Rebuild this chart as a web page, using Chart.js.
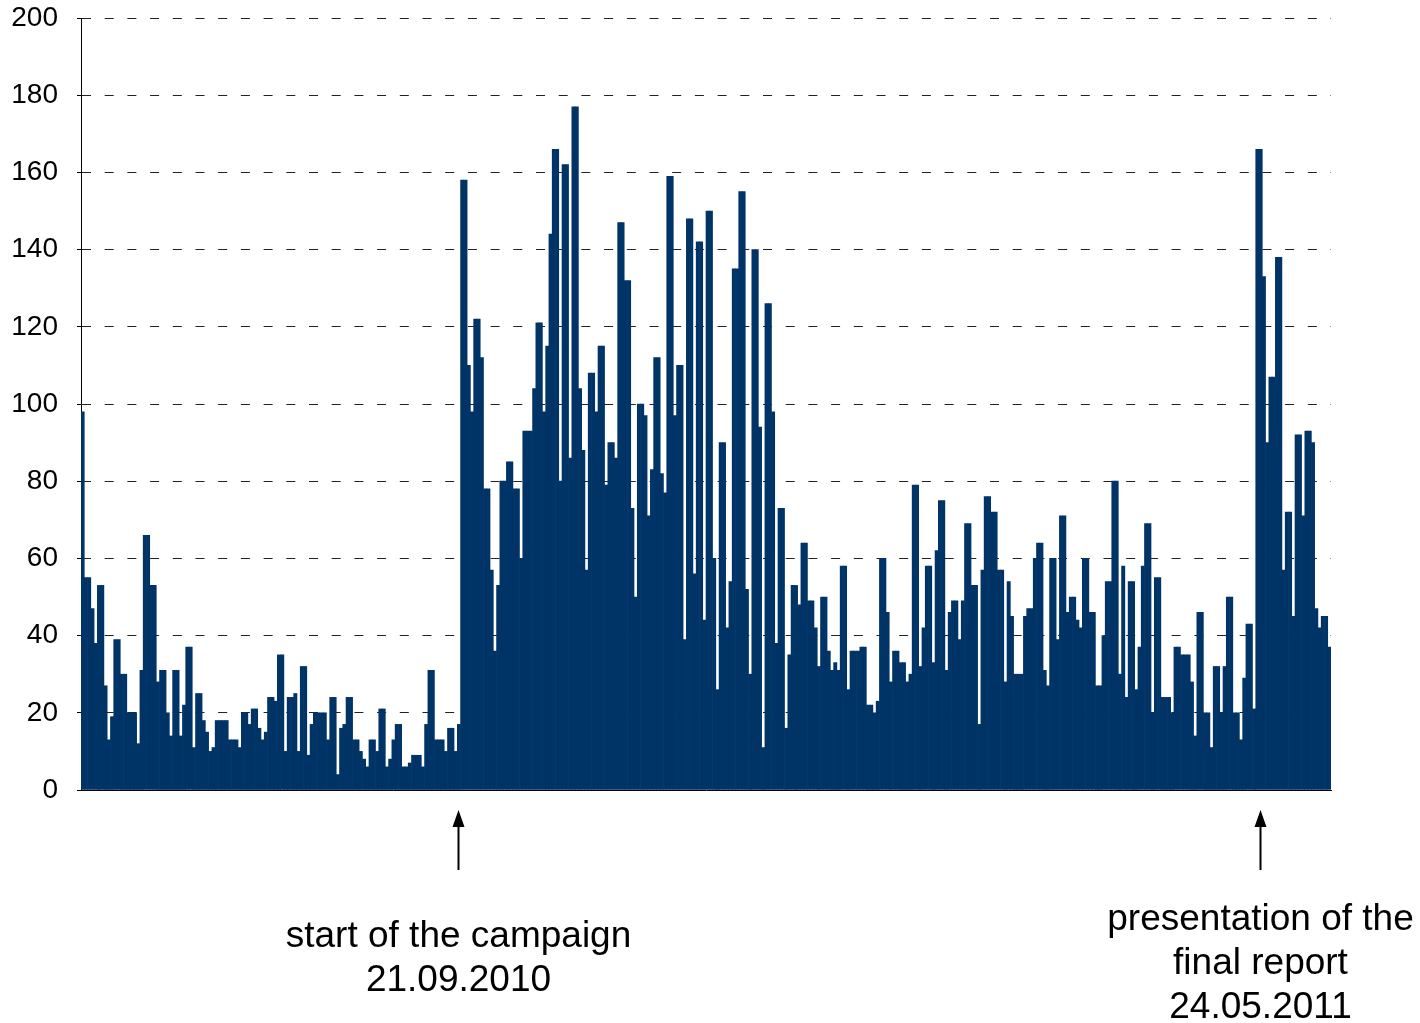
<!DOCTYPE html>
<html>
<head>
<meta charset="utf-8">
<title>Daily visits</title>
<script src="https://cdn.jsdelivr.net/npm/chart.js@4.4.0/dist/chart.umd.min.js"></script>
<style>
  html, body { margin: 0; padding: 0; background: #fff; }
  #wrap { position: relative; width: 1420px; height: 1023px; overflow: hidden; }
  #visits-chart { position: absolute; left: 0; top: 0; }
  .note {
    position: absolute;
    transform: translateX(-50%);
    text-align: center;
    white-space: nowrap;
    font-family: 'Liberation Sans', Arial, sans-serif;
    font-size: 37px;
    line-height: 44px;
    color: #000;
  }
  #note-start { top: 913px; left: 458px; }
  #note-report { top: 896px; left: 1259px; }
</style>
</head>
<body>
<div id="wrap">
  <canvas id="visits-chart" width="1420" height="1023"></canvas>
  <div class="note" id="note-start">start of the campaign<br>21.09.2010</div>
  <div class="note" id="note-report">presentation of the<br>final report<br>24.05.2011</div>
</div>
<script>
// daily values, one bar per day
const firstDay = '29.05.2010';

// 29.05.2010 - 20.09.2010
const visitsBeforeCampaign = [
  98, 55, 55, 47, 38, 53, 53, 27, 13, 19, 39, 39, 30, 30, 20, 20, 20, 12, 31, 66, 66, 53, 53, 28, 31, 31, 20, 14, 31, 31, 14, 22,
  37, 37, 11, 25, 25, 18, 15, 10, 11, 18, 18, 18, 18, 13, 13, 13, 11, 20, 20, 17, 21, 21, 16, 13, 15, 24, 24, 23, 35, 35, 10,
  24, 24, 25, 10, 32, 32, 9, 17, 20, 20, 20, 20, 13, 24, 24, 4, 16, 17, 24, 24, 13, 13, 10, 8, 6, 13, 13, 10, 21, 21, 6, 8,
  13, 17, 17, 6, 6, 7, 9, 9, 9, 6, 17, 31, 31, 13, 13, 13, 10, 16, 16, 10
];

// 21.09.2010 - 22.05.2011
const visitsCampaign = [
  17, 158, 158, 110, 98, 122, 122, 112, 78, 78, 57, 36,
  53, 80, 80, 85, 85, 78, 78, 60, 93, 93, 93, 104, 121, 121, 98, 115, 144, 166, 166, 80, 162, 162, 86, 177, 177, 104, 88, 57, 108, 108, 98,
  115, 115, 79, 90, 90, 86, 147, 147, 132, 132, 73, 50, 100, 100, 97, 71, 83, 112, 112, 82, 77, 159, 159, 97, 110, 110, 39, 148, 148, 56, 142, 142, 44,
  150, 150, 60, 26, 90, 90, 42, 54, 135, 135, 155, 155, 52, 30, 140, 140, 94, 11, 126, 126, 98, 38, 73, 73, 16, 35, 53, 53, 48, 64, 64,
  49, 49, 42, 32, 50, 50, 36, 31, 33, 31, 58, 58, 26, 36, 36, 36, 37, 37, 22, 22, 20, 23, 60, 60, 46, 28, 36, 36, 33, 33, 28, 30,
  79, 79, 32, 42, 58, 58, 33, 62, 75, 75, 31, 46, 49, 49, 39, 49, 69, 69, 53, 53, 17, 57, 76, 76, 72, 72, 57, 57, 28, 54, 45, 30,
  30, 30, 45, 47, 47, 60, 64, 64, 31, 27, 60, 60, 39, 71, 71, 46, 50, 50, 44, 42, 60, 60, 46, 46, 27, 27, 40, 54, 54, 80, 80, 30, 58,
  24, 54, 54, 26, 37, 58, 69, 69, 20, 55, 55, 24, 24, 24, 20, 37, 37, 35, 35, 35, 28, 14, 46, 46, 20, 20, 11, 32, 32, 20, 32, 50, 50, 20, 20, 13, 29, 43, 43, 21
];

// 23.05.2011 - 14.06.2011
const visitsReport = [
  166, 166, 133, 90, 107, 107, 138, 138, 57, 72, 72, 45, 92, 92, 71, 93, 93, 90, 47, 42, 45, 45, 37
];

const yTicks = [0, 20, 40, 60, 80, 100, 120, 140, 160, 180, 200];

// the two marked days, arrow + text below the axis
const events = [
  { date: '21.09.2010', note: 'note-start' },
  { date: '24.05.2011', note: 'note-report' }
];

const visits = visitsBeforeCampaign.concat(visitsCampaign, visitsReport);

// one label per day, dd.mm.yyyy
function pad(n) { return (n < 10 ? '0' : '') + n; }
const [d0, m0, y0] = firstDay.split('.').map(Number);
const dayLabels = visits.map((v, i) => {
  const d = new Date(Date.UTC(y0, m0 - 1, d0) + i * 86400000);
  return pad(d.getUTCDate()) + '.' + pad(d.getUTCMonth() + 1) + '.' + d.getUTCFullYear();
});

const eventArrows = {
  id: 'eventArrows',
  afterDraw(chart) {
    const ctx = chart.ctx;
    const xScale = chart.scales.x;
    const base = chart.chartArea.bottom;
    events.forEach(ev => {
      const idx = dayLabels.indexOf(ev.date);
      if (idx < 0) return;
      const px = Math.round(xScale.getPixelForValue(idx) - 1) + 0.5;
      ctx.save();
      ctx.strokeStyle = '#000';
      ctx.fillStyle = '#000';
      ctx.lineWidth = 2;
      ctx.beginPath();
      ctx.moveTo(px, base + 80);
      ctx.lineTo(px, base + 34);
      ctx.stroke();
      ctx.beginPath();
      ctx.moveTo(px, base + 20);
      ctx.lineTo(px - 6, base + 37);
      ctx.lineTo(px + 6, base + 37);
      ctx.closePath();
      ctx.fill();
      ctx.restore();
      const el = document.getElementById(ev.note);
      if (el) el.style.left = px + 'px';
    });
  }
};

const ctx = document.getElementById('visits-chart');
const visitsChart = new Chart(ctx, {
  type: 'bar',
  data: {
    labels: dayLabels,
    datasets: [{
      label: 'visits',
      data: visits,
      backgroundColor: '#003366',
      borderWidth: 0,
      barPercentage: 1.0,
      categoryPercentage: 1.0
    }]
  },
  options: {
    responsive: false,
    animation: false,
    devicePixelRatio: 1,
    layout: {
      padding: { left: 0, right: 89, top: 18, bottom: 233 }
    },
    plugins: {
      legend: { display: false },
      tooltip: { enabled: false }
    },
    scales: {
      x: {
        grid: { display: false },
        ticks: { display: false },
        border: { display: true, color: '#000', width: 1 },
        afterFit(scale) { scale.height = 0; }
      },
      y: {
        min: 0,
        max: 200,
        afterBuildTicks(scale) { scale.ticks = yTicks.map(v => ({ value: v })); },
        ticks: {
          color: '#000',
          padding: 19,
          font: { family: "'Liberation Sans', Arial, sans-serif", size: 28 }
        },
        grid: {
          color: '#222',
          lineWidth: 1,
          drawTicks: true,
          tickLength: 4,
          tickColor: '#000'
        },
        border: { display: true, color: '#000', width: 1, dash: [9, 13.7], dashOffset: 0 },
        afterFit(scale) {
          // fixed axis width, and no extra room above/below for the end labels
          scale.width = 81;
          scale.paddingTop = 0;
          scale.paddingBottom = 0;
        }
      }
    }
  },
  plugins: [eventArrows]
});
</script>
</body>
</html>
